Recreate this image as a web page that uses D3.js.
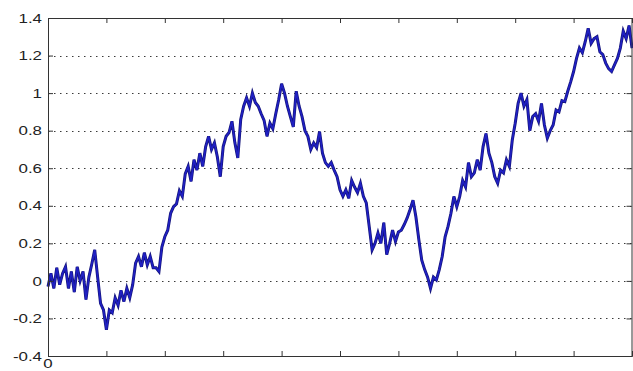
<!DOCTYPE html>
<html>
<head>
<meta charset="utf-8">
<script src="https://cdn.jsdelivr.net/npm/d3@7/dist/d3.min.js"></script>
<style>
  html, body { margin: 0; padding: 0; background: #fff; }
  svg { display: block; }
</style>
</head>
<body>
<script>
// Sample path of a random walk, one value every 5 steps from 0 to 1000
const stepSize = 5;
const pathValues = [
  -0.03, 0.04, -0.04, 0.07, -0.02, 0.04, 0.075, -0.04, 0.05, -0.06,
  0.075, 0.0, 0.05, -0.10, 0.02, 0.09, 0.165, 0.02, -0.12, -0.155,
  -0.26, -0.155, -0.17, -0.09, -0.13, -0.05, -0.11, -0.04, -0.09, -0.02,
  0.095, 0.13, 0.075, 0.15, 0.085, 0.13, 0.07, 0.07, 0.05, 0.18,
  0.235, 0.27, 0.36, 0.395, 0.41, 0.48, 0.45, 0.57, 0.61, 0.53,
  0.645, 0.59, 0.68, 0.61, 0.715, 0.77, 0.70, 0.735, 0.66, 0.555,
  0.715, 0.77, 0.79, 0.85, 0.735, 0.655, 0.86, 0.93, 0.975, 0.93,
  1.0, 0.95, 0.93, 0.89, 0.855, 0.77, 0.84, 0.81, 0.89, 0.965,
  1.05, 1.0, 0.93, 0.875, 0.82, 1.01, 0.93, 0.875, 0.80, 0.77,
  0.70, 0.735, 0.71, 0.795, 0.68, 0.63, 0.61, 0.63, 0.59, 0.555,
  0.485, 0.45, 0.485, 0.44, 0.535, 0.50, 0.47, 0.52, 0.45, 0.415,
  0.29, 0.165, 0.20, 0.255, 0.20, 0.31, 0.14, 0.20, 0.27, 0.21,
  0.26, 0.27, 0.30, 0.335, 0.38, 0.43, 0.34, 0.22, 0.11, 0.06,
  0.02, -0.04, 0.02, 0.005, 0.06, 0.13, 0.235, 0.29, 0.36, 0.45,
  0.395, 0.45, 0.535, 0.50, 0.63, 0.555, 0.575, 0.645, 0.59, 0.715,
  0.785, 0.68, 0.63, 0.555, 0.52, 0.59, 0.575, 0.645, 0.61, 0.75,
  0.84, 0.945, 1.0, 0.93, 0.965, 0.80, 0.875, 0.89, 0.85, 0.945,
  0.83, 0.76, 0.80, 0.83, 0.91, 0.90, 0.96, 0.955, 1.01, 1.06,
  1.115, 1.185, 1.24, 1.215, 1.275, 1.345, 1.265, 1.29, 1.30, 1.22,
  1.205, 1.16, 1.13, 1.115, 1.15, 1.185, 1.24, 1.33, 1.29, 1.36,
  1.24
];
const yTicks = [-0.4, -0.2, 0, 0.2, 0.4, 0.6, 0.8, 1, 1.2, 1.4];
const yTickLabels = ["-0.4", "-0.2", "0", "0.2", "0.4", "0.6", "0.8", "1", "1.2", "1.4"];
const xTicks = [0, 100, 200, 300, 400, 500, 600, 700, 800, 900, 1000];
const xTickLabels = ["0"];

const W = 633, H = 371;
const margin = { left: 48, right: 1, top: 18, bottom: 15 };

const svg = d3.select("body").append("svg")
  .attr("width", W).attr("height", H);

const x = d3.scaleLinear().domain([0, 1000]).range([margin.left, W - margin.right]);
const y = d3.scaleLinear().domain([-0.4, 1.4]).range([H - margin.bottom, margin.top]);

const data = pathValues.map((v, i) => ({ t: i * stepSize, v }));

// Dotted horizontal grid
svg.append("g")
  .selectAll("line")
  .data(yTicks.filter(t => t > -0.4 && t < 1.4))
  .join("line")
  .attr("x1", x(0)).attr("x2", x(1000))
  .attr("y1", d => Math.round(y(d)) + 0.5).attr("y2", d => Math.round(y(d)) + 0.5)
  .attr("stroke", "#3a3a3a")
  .attr("stroke-width", 1)
  .attr("stroke-dasharray", "1.5,4.5");

// Walk trace: dark outline under a brighter blue core
const line = d3.line().x(d => x(d.t)).y(d => y(d.v));
svg.append("path")
  .datum(data)
  .attr("fill", "none")
  .attr("stroke", "#15157a")
  .attr("stroke-width", 3)
  .attr("stroke-linejoin", "miter")
  .attr("d", line);
svg.append("path")
  .datum(data)
  .attr("fill", "none")
  .attr("stroke", "#2020c4")
  .attr("stroke-width", 1.6)
  .attr("stroke-linejoin", "miter")
  .attr("d", line);

// Axes box with inward ticks
const tickLen = 5;
const axisColor = "#333";
const axisL = d3.axisLeft(y).tickValues(yTicks).tickSize(-tickLen).tickFormat("");
const axisR = d3.axisRight(y).tickValues(yTicks).tickSize(-tickLen).tickFormat("");
const axisB = d3.axisBottom(x).tickValues(xTicks).tickSize(-tickLen).tickFormat("");
const axisT = d3.axisTop(x).tickValues(xTicks).tickSize(-tickLen).tickFormat("");

function styleAxis(g) {
  g.selectAll("path, line").attr("stroke", axisColor);
}
svg.append("g").attr("transform", `translate(${x(0)},0)`).call(axisL).call(styleAxis);
svg.append("g").attr("transform", `translate(${x(1000) - 0.5},0)`).call(axisR).call(styleAxis);
svg.append("g").attr("transform", `translate(0,${y(-0.4)})`).call(axisB).call(styleAxis);
svg.append("g").attr("transform", `translate(0,${y(1.4)})`).call(axisT).call(styleAxis);

// Tick labels
const labelFont = "'Liberation Sans', Arial, sans-serif";
svg.append("g")
  .selectAll("text")
  .data(yTicks)
  .join("text")
  .attr("transform", d => `translate(42,${y(d)}) scale(1.3,1)`)
  .attr("text-anchor", "end")
  .attr("dy", "0.36em")
  .attr("font-family", labelFont)
  .attr("font-size", 13)
  .attr("fill", "#222")
  .text((d, i) => yTickLabels[i]);

svg.append("g")
  .selectAll("text")
  .data(xTickLabels)
  .join("text")
  .attr("transform", (d, i) => `translate(${x(xTicks[i])},368) scale(1.3,1)`)
  .attr("text-anchor", "middle")
  .attr("font-family", labelFont)
  .attr("font-size", 13)
  .attr("fill", "#222")
  .text(d => d);
</script>
</body>
</html>
